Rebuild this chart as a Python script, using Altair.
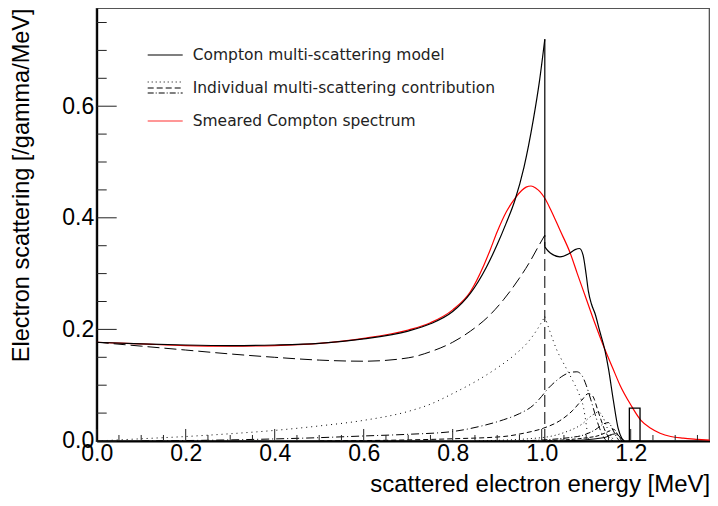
import altair as alt
import pandas as pd

# ---------------- data ----------------
# Compton multi-scattering model (solid black), split at the Compton edge
total_left_x = [0, 0.1, 0.2, 0.3, 0.4, 0.5, 0.6, 0.7, 0.75, 0.8, 0.84, 0.876, 0.9, 0.92, 0.94, 0.96, 0.981, 0.995, 1.007]
total_left_y = [0.177, 0.174, 0.172, 0.171, 0.172, 0.175, 0.183, 0.197, 0.210, 0.232, 0.265, 0.312, 0.352, 0.390, 0.432, 0.490, 0.575, 0.645, 0.720]
total_right_x = [1.007, 1.015, 1.025, 1.041, 1.06, 1.075, 1.085, 1.093, 1.1, 1.105, 1.112, 1.12, 1.13, 1.142, 1.15, 1.161, 1.172, 1.18, 1.186]
total_right_y = [0.348, 0.340, 0.334, 0.330, 0.335, 0.343, 0.345, 0.333, 0.298, 0.268, 0.245, 0.228, 0.198, 0.163, 0.130, 0.073, 0.022, 0.005, 0.0]
edge_x = [1.007]
edge_total_low = [0.348]
edge_total_high = [0.720]

# Smeared Compton spectrum (red)
smear_x = [0, 0.1, 0.2, 0.3, 0.4, 0.5, 0.6, 0.7, 0.75, 0.8, 0.84, 0.87, 0.884, 0.9, 0.92, 0.94, 0.955, 0.965, 0.976, 0.987,
           0.996, 1.007, 1.02, 1.041, 1.064, 1.08, 1.1, 1.12, 1.138, 1.16, 1.176, 1.2, 1.222, 1.245, 1.266, 1.29, 1.318, 1.35, 1.39]
smear_y = [0.177, 0.174, 0.171, 0.170, 0.171, 0.175, 0.184, 0.199, 0.212, 0.235, 0.268, 0.315, 0.342, 0.375, 0.410, 0.435, 0.449, 0.455, 0.457, 0.453,
           0.447, 0.435, 0.415, 0.378, 0.337, 0.300, 0.255, 0.210, 0.172, 0.130, 0.100, 0.065, 0.038, 0.023, 0.014, 0.008, 0.005, 0.003, 0.001]

# Individual multi-scattering contributions
c1_x = [0, 0.1, 0.2, 0.3, 0.4, 0.5, 0.6, 0.7, 0.75, 0.8, 0.84, 0.88, 0.914, 0.95, 0.974, 0.99, 1.007]
c1_y = [0.177, 0.170, 0.163, 0.156, 0.150, 0.145, 0.143, 0.149, 0.160, 0.177, 0.197, 0.223, 0.253, 0.292, 0.322, 0.345, 0.369]
edge_c1_high = [0.369]

c2_left_x = [0, 0.1, 0.2, 0.3, 0.4, 0.5, 0.6, 0.7, 0.75, 0.8, 0.85, 0.9, 0.94, 0.97, 0.99, 1.007]
c2_left_y = [0.0, 0.004, 0.008, 0.013, 0.019, 0.027, 0.037, 0.053, 0.066, 0.085, 0.106, 0.131, 0.155, 0.178, 0.200, 0.223]
c2_right_x = [1.007, 1.02, 1.034, 1.05, 1.064, 1.075, 1.086, 1.094, 1.1, 1.105]
c2_right_y = [0.223, 0.193, 0.163, 0.138, 0.117, 0.100, 0.080, 0.060, 0.030, 0.0]

c3_x = [0.1, 0.3, 0.5, 0.6, 0.7, 0.8, 0.86, 0.914, 0.95, 0.981, 1.0, 1.011, 1.03, 1.05, 1.065, 1.079, 1.09, 1.1, 1.11, 1.12, 1.13, 1.14, 1.146]
c3_y = [0.0, 0.002, 0.006, 0.009, 0.012, 0.017, 0.026, 0.038, 0.049, 0.064, 0.080, 0.091, 0.106, 0.118, 0.123, 0.124, 0.118, 0.100, 0.075, 0.048, 0.023, 0.006, 0.0]

c4_x = [0.5, 0.8, 0.914, 0.96, 1.004, 1.04, 1.07, 1.09, 1.105, 1.115, 1.125, 1.135, 1.145, 1.155, 1.16]
c4_y = [0.0, 0.004, 0.008, 0.014, 0.023, 0.036, 0.055, 0.073, 0.085, 0.080, 0.058, 0.034, 0.014, 0.003, 0.0]

c5_x = [0.85, 1.0, 1.05, 1.09, 1.115, 1.128, 1.138, 1.148, 1.158, 1.164]
c5_y = [0.0, 0.006, 0.015, 0.030, 0.047, 0.052, 0.042, 0.022, 0.006, 0.0]

c6_x = [0.95, 1.08, 1.12, 1.14, 1.15, 1.16, 1.17, 1.175]
c6_y = [0.0, 0.008, 0.020, 0.031, 0.033, 0.020, 0.005, 0.0]

c7_x = [1.0, 1.12, 1.15, 1.162, 1.172, 1.18]
c7_y = [0.0, 0.008, 0.017, 0.021, 0.010, 0.0]

c8_x = [1.05, 1.14, 1.166, 1.176, 1.184]
c8_y = [0.0, 0.006, 0.013, 0.007, 0.0]

# single bin drawn at 1.2 MeV
box_x0 = [1.197]
box_x1 = [1.221]
box_h = [0.059]

# axis ticks
x_major = [0.0, 0.2, 0.4, 0.6, 0.8, 1.0, 1.2]
x_minor = [0.05, 0.1, 0.15, 0.25, 0.3, 0.35, 0.45, 0.5, 0.55, 0.65, 0.7, 0.75, 0.85, 0.9, 0.95,
           1.05, 1.1, 1.15, 1.25, 1.3, 1.35]
y_major = [0.0, 0.2, 0.4, 0.6]
y_minor = [0.05, 0.1, 0.15, 0.25, 0.3, 0.35, 0.45, 0.5, 0.55, 0.65, 0.7, 0.75]

legend_labels = ["Compton multi-scattering model",
                 "Individual multi-scattering contribution",
                 "Smeared Compton spectrum"]

# ---------------- chart ----------------
W, H = 613, 433
XMAX, YMAX = 613 / 445, 0.776
xs = alt.Scale(domain=[0, XMAX], nice=False, zero=False)
ys = alt.Scale(domain=[0, YMAX], nice=False, zero=False)
FONT = "Liberation Sans"


def df_curve(*parts):
    rows = []
    for i, (xv, yv) in enumerate(parts):
        for a, b in zip(xv, yv):
            rows.append({"x": a, "y": b, "seg": f"s{i}"})
    return pd.DataFrame(rows)


def line_layer(df, dash=None, color="black", width=1.0):
    kw = dict(color=color, strokeWidth=width, interpolate="monotone", clip=True)
    if dash:
        kw["strokeDash"] = dash
    return alt.Chart(df).mark_line(**kw).encode(
        x=alt.X("x:Q", scale=xs),
        y=alt.Y("y:Q", scale=ys),
        detail="seg:N",
    )


x_axis = alt.Axis(values=x_major, format=".1f", ticks=False, grid=False,
                  domainColor="black", domainWidth=2,
                  labelFont=FONT, labelFontSize=23, labelColor="black",
                  labelPadding=2, labelFlush=False, labelOverlap=False,
                  title="scattered electron energy [MeV]", titleFont=FONT,
                  titleFontSize=24, titleFontWeight="normal", titleColor="black",
                  titleX=W, titleY=51, titleAlign="right", titleBaseline="alphabetic")
y_axis = alt.Axis(values=y_major, format=".1f", ticks=False, grid=False,
                  domainColor="black", domainWidth=2,
                  labelFont=FONT, labelFontSize=23, labelColor="black",
                  labelPadding=3, labelFlush=False, labelOverlap=False,
                  title="Electron scattering [/gamma/MeV]", titleFont=FONT,
                  titleFontSize=23.5, titleFontWeight="normal", titleColor="black",
                  titleAngle=270, titleX=-68, titleY=0, titleAlign="right",
                  titleBaseline="alphabetic")

smear_df = pd.DataFrame({"x": smear_x, "y": smear_y})
smear = alt.Chart(smear_df).mark_line(color="#ff0000", strokeWidth=1.2,
                                      interpolate="monotone", clip=True).encode(
    x=alt.X("x:Q", scale=xs, axis=x_axis),
    y=alt.Y("y:Q", scale=ys, axis=y_axis),
)

total = line_layer(df_curve((total_left_x, total_left_y), (total_right_x, total_right_y)), width=1.2)
c1 = line_layer(df_curve((c1_x, c1_y)), dash=[12, 5])
c2 = line_layer(df_curve((c2_left_x, c2_left_y), (c2_right_x, c2_right_y)), dash=[1, 4])
c3 = line_layer(df_curve((c3_x, c3_y)), dash=[8, 3, 1, 3])
c4 = line_layer(df_curve((c4_x, c4_y)), dash=[5, 3])
c5 = line_layer(df_curve((c5_x, c5_y)), dash=[1, 3])
c6 = line_layer(df_curve((c6_x, c6_y)), dash=[6, 2, 1, 2])
c7 = line_layer(df_curve((c7_x, c7_y)), dash=[4, 2])
c8 = line_layer(df_curve((c8_x, c8_y)))

edge_df = pd.DataFrame({"x": edge_x, "y": edge_total_low, "hi": edge_total_high,
                        "c1": edge_c1_high, "zero": [0.0]})
edge_solid = alt.Chart(edge_df).mark_rule(color="black", strokeWidth=1.2).encode(
    x=alt.X("x:Q", scale=xs),
    y=alt.Y("y:Q", scale=ys), y2="hi:Q")
edge_dash = alt.Chart(edge_df).mark_rule(color="black", strokeWidth=1, strokeDash=[12, 5]).encode(
    x=alt.X("x:Q", scale=xs),
    y=alt.Y("zero:Q", scale=ys), y2="c1:Q")

box_df = pd.DataFrame({"x": box_x0, "x1": box_x1, "h": box_h, "y": [0.0]})
box = alt.Chart(box_df).mark_rect(fillOpacity=0, stroke="black", strokeWidth=1.3).encode(
    x=alt.X("x:Q", scale=xs), x2="x1:Q",
    y=alt.Y("y:Q", scale=ys), y2="h:Q")

TICK = "#222"
xmaj = alt.Chart(pd.DataFrame({"x": x_major})).mark_rule(color=TICK, strokeWidth=1).encode(
    x=alt.X("x:Q", scale=xs), y=alt.value(H), y2=alt.value(H - 12))
xmin = alt.Chart(pd.DataFrame({"x": x_minor})).mark_rule(color=TICK, strokeWidth=1).encode(
    x=alt.X("x:Q", scale=xs), y=alt.value(H), y2=alt.value(H - 6))
ymaj = alt.Chart(pd.DataFrame({"y": y_major})).mark_rule(color=TICK, strokeWidth=1).encode(
    y=alt.Y("y:Q", scale=ys), x=alt.value(0), x2=alt.value(20))
ymin = alt.Chart(pd.DataFrame({"y": y_minor})).mark_rule(color=TICK, strokeWidth=1).encode(
    y=alt.Y("y:Q", scale=ys), x=alt.value(0), x2=alt.value(10))

# legend (no frame)
one = pd.DataFrame({"k": [0]})
LX0, LX1, LT = 51, 86, 96
LFONT = "DejaVu Sans"


def leg_line(yv, color="black", dash=None, width=1.2):
    kw = dict(color=color, strokeWidth=width)
    if dash:
        kw["strokeDash"] = dash
    return alt.Chart(one).mark_rule(**kw).encode(
        x=alt.value(LX0), x2=alt.value(LX1), y=alt.value(yv))


def leg_text(label, yv):
    return alt.Chart(pd.DataFrame({"t": [label]})).mark_text(
        align="left", baseline="middle", font=LFONT, fontSize=15.5, color="#222").encode(
        x=alt.value(LT), y=alt.value(yv), text="t:N")


legend = alt.layer(
    leg_line(47),
    leg_text(legend_labels[0], 47),
    leg_line(74, dash=[1, 3], width=1),
    leg_line(80, dash=[6, 3], width=1),
    leg_line(85, dash=[6, 2, 1, 2], width=1),
    leg_text(legend_labels[1], 80),
    leg_line(113, color="#ff3030"),
    leg_text(legend_labels[2], 113),
)

chart = alt.layer(
    smear, c8, c7, c6, c5, c4, c3, c2, c1, edge_dash, total, edge_solid, box,
    xmin, xmaj, ymin, ymaj, legend,
).properties(
    width=W, height=H,
    autosize=alt.AutoSizeParams(type="none"),
    padding={"left": 88.7, "top": 0, "right": 0, "bottom": 57},
).configure_view(stroke="#555", strokeWidth=2)

chart.save("out.html", embed_options={"renderer": "svg", "actions": False})
